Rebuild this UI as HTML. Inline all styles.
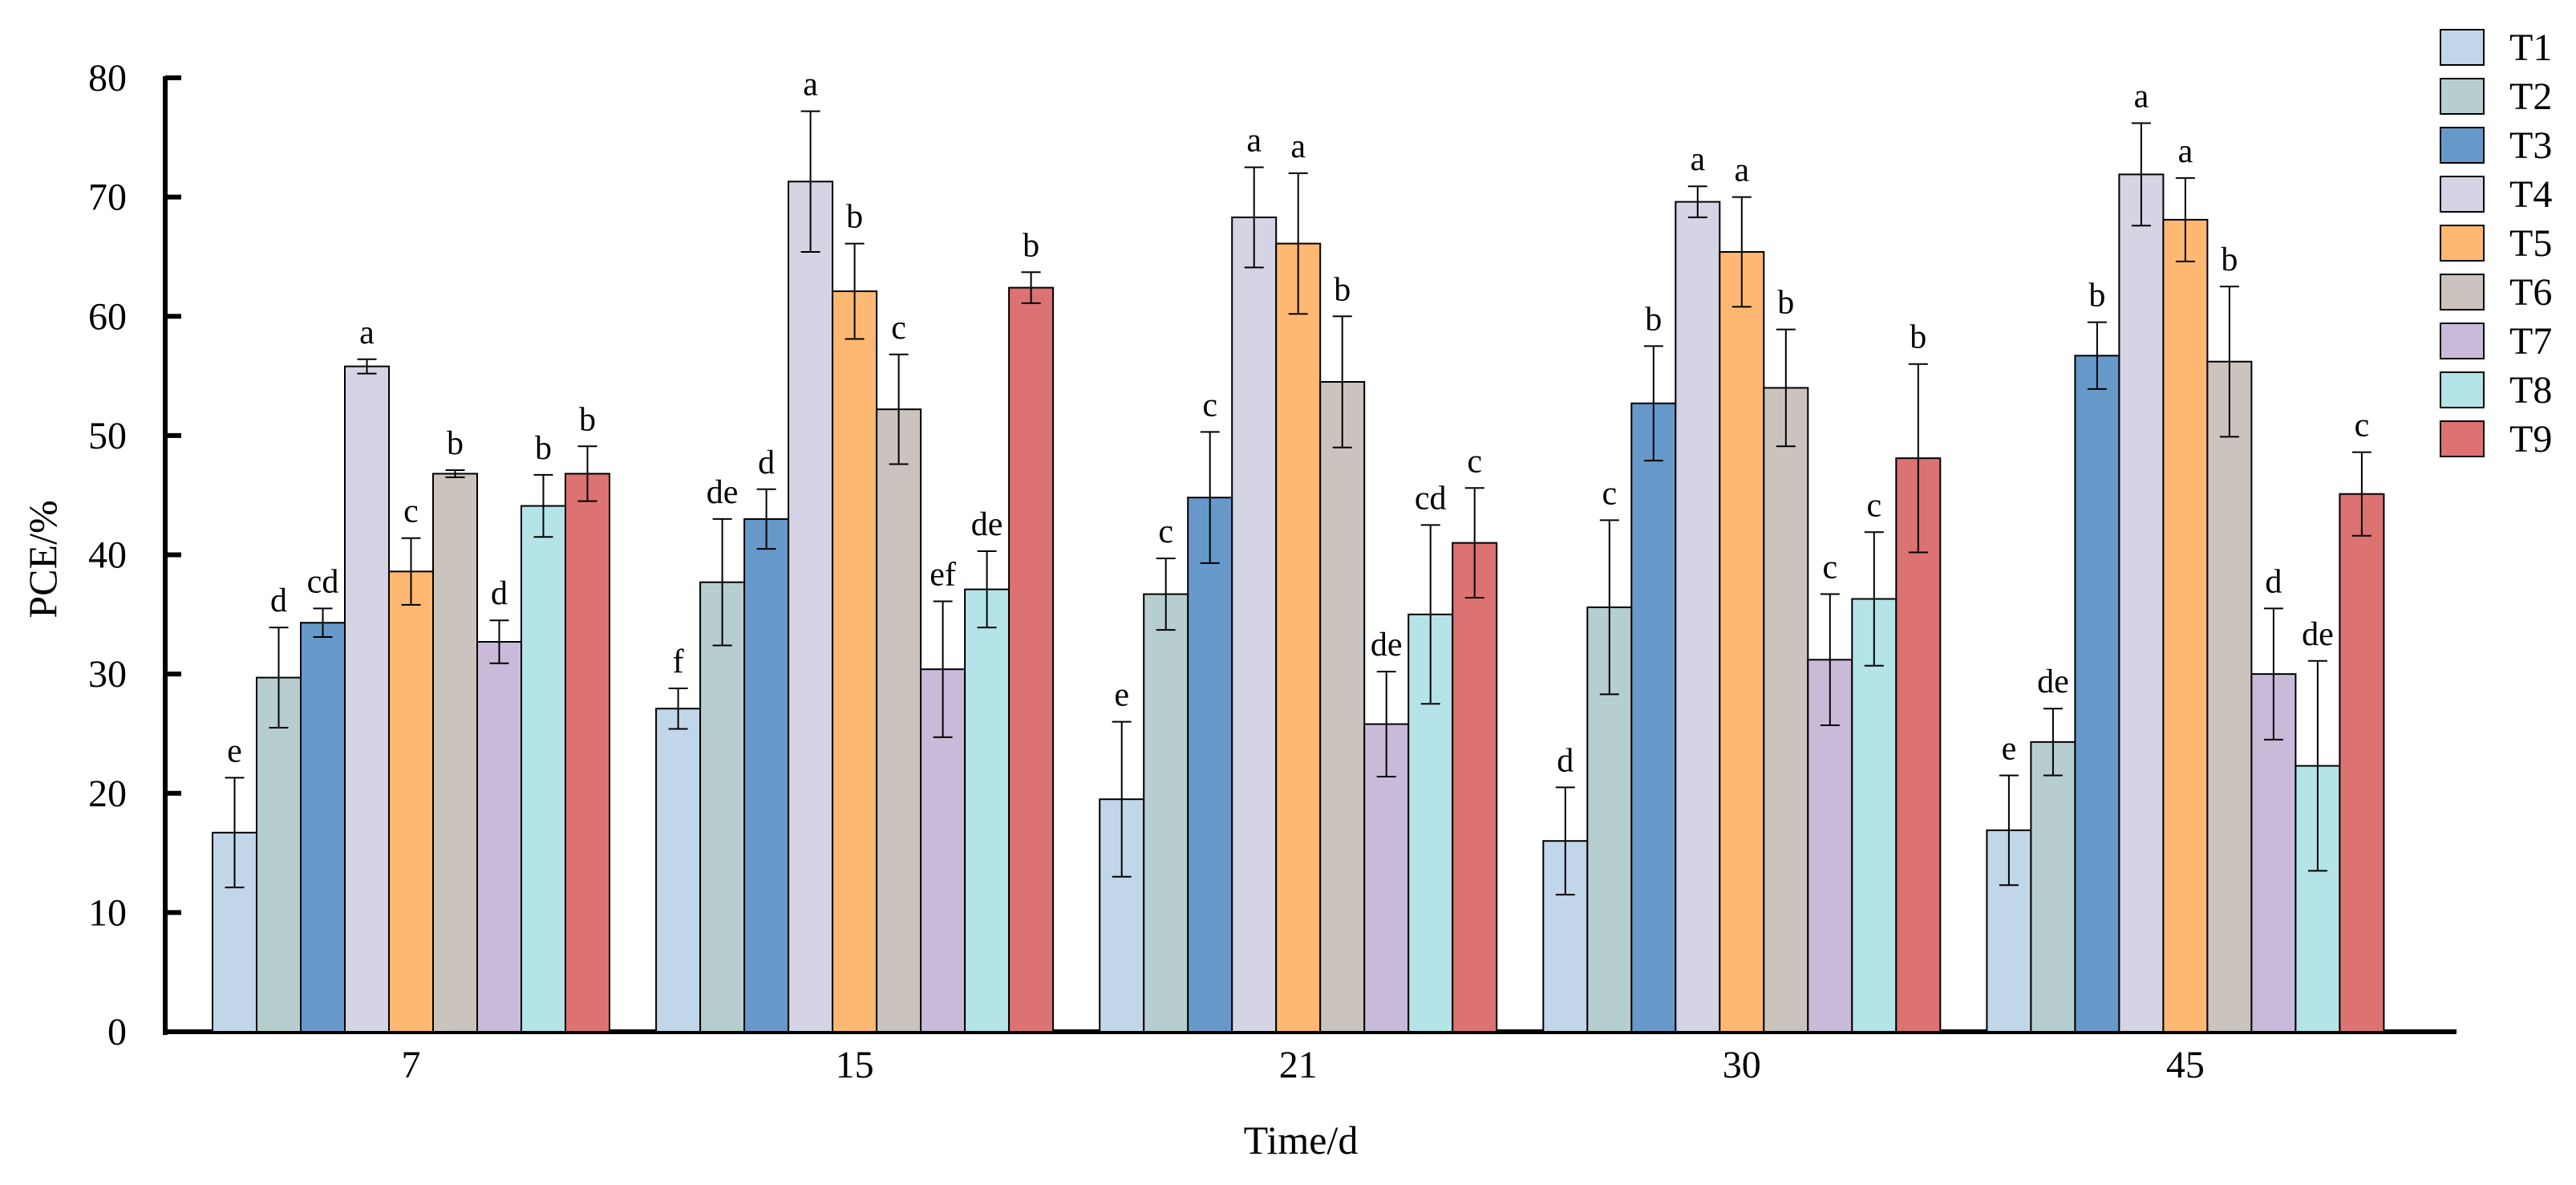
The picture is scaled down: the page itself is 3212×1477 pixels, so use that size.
<!DOCTYPE html>
<html><head><meta charset="utf-8"><style>
html,body{margin:0;padding:0;background:#fff;}
svg{display:block;font-family:"Liberation Serif",serif;}
</style></head><body>
<svg id="chart" width="3212" height="1477" viewBox="0 0 3212 1477" xmlns="http://www.w3.org/2000/svg">
<g id="axes"></g>
<g id="bars"></g>
<g id="legend"></g>
<text x="0" y="0" transform="translate(70,697) rotate(-90)" font-size="50" text-anchor="middle">PCE/%</text>
<text x="1622" y="1438" font-size="50" text-anchor="middle">Time/d</text>
</svg>
<script>
const categories = ["7","15","21","30","45"];
const series = ["T1","T2","T3","T4","T5","T6","T7","T8","T9"];
const colors = ["#c2d6ea","#b6cecf","#6699c9","#d4d4e4","#ffb871","#cbc3bd","#c9bada","#b4e3e8","#dc7272"];
// values[series][category]
const T1 = [16.7,27.1,19.5,16.0,16.9];
const T2 = [29.7,37.7,36.7,35.6,24.3];
const T3 = [34.3,43.0,44.8,52.7,56.7];
const T4 = [55.8,71.3,68.3,69.6,71.9];
const T5 = [38.6,62.1,66.1,65.4,68.1];
const T6 = [46.8,52.2,54.5,54.0,56.2];
const T7 = [32.7,30.4,25.8,31.2,30.0];
const T8 = [44.1,37.1,35.0,36.3,22.3];
const T9 = [46.8,62.4,41.0,48.1,45.1];
const E1 = [4.6,1.7,6.5,4.5,4.6];
const E2 = [4.2,5.3,3.0,7.3,2.8];
const E3 = [1.2,2.5,5.5,4.8,2.8];
const E4 = [0.6,5.9,4.2,1.3,4.3];
const E5 = [2.8,4.0,5.9,4.6,3.5];
const E6 = [0.3,4.6,5.5,4.9,6.3];
const E7 = [1.8,5.7,4.4,5.5,5.5];
const E8 = [2.6,3.2,7.5,5.6,8.8];
const E9 = [2.3,1.3,4.6,7.9,3.5];
const L1 = ["e","f","e","d","e"];
const L2 = ["d","de","c","c","de"];
const L3 = ["cd","d","c","b","b"];
const L4 = ["a","a","a","a","a"];
const L5 = ["c","b","a","a","a"];
const L6 = ["b","c","b","b","b"];
const L7 = ["d","ef","de","c","d"];
const L8 = ["b","de","cd","c","de"];
const L9 = ["b","b","c","b","c"];
const yTicks = [0,10,20,30,40,50,60,70,80];

const values=[T1,T2,T3,T4,T5,T6,T7,T8,T9];
const errors=[E1,E2,E3,E4,E5,E6,E7,E8,E9];
const letters=[L1,L2,L3,L4,L5,L6,L7,L8,L9];
const NS="http://www.w3.org/2000/svg";
const X0=206, Y0=1286, YTOP=97, XEND=3063;
const yScale=v=>Y0-(v/80)*(Y0-YTOP);
const groupCenter=i=>512.5+i*553.1;
const BW=55;
const barX=(i,s)=>groupCenter(i)-BW*series.length/2+s*BW;
function mk(tag,attrs,parent){const e=document.createElementNS(NS,tag);for(const k in attrs)e.setAttribute(k,attrs[k]);parent.appendChild(e);return e;}
const axes=document.getElementById('axes'),bars=document.getElementById('bars'),legend=document.getElementById('legend');

categories.forEach((c,i)=>{
  series.forEach((s,j)=>{
    const v=values[j][i],e=errors[j][i];
    const x=barX(i,j),cx=x+BW/2;
    const r=mk('rect',{x:x,y:yScale(v),width:BW,height:Y0-yScale(v),fill:colors[j],stroke:'#000','stroke-width':2},bars);
    
    
    const g=mk('g',{stroke:'#000','stroke-width':2},bars);
    
    
    mk('line',{x1:cx,x2:cx,y1:yScale(v+e),y2:yScale(v-e)},g);
    mk('line',{x1:cx-12,x2:cx+12,y1:yScale(v+e),y2:yScale(v+e)},g);
    mk('line',{x1:cx-12,x2:cx+12,y1:yScale(v-e),y2:yScale(v-e)},g);
    const t=mk('text',{x:cx,y:yScale(v+e)-20,'font-size':42,'text-anchor':'middle'},bars);
    t.textContent=letters[j][i];
    
    
  });
  const t=mk('text',{x:groupCenter(i),y:1343,'font-size':48,'text-anchor':'middle'},axes);
  t.textContent=c;
  
  
});

const ya=mk('line',{x1:X0,x2:X0,y1:YTOP-2,y2:Y0+4,stroke:'#000','stroke-width':6},axes);


const xa=mk('line',{x1:X0-3,x2:XEND,y1:Y0,y2:Y0,stroke:'#000','stroke-width':6},axes);


yTicks.forEach(v=>{
  const y=yScale(v);
  const tk=mk('line',{x1:X0,x2:X0+20,y1:y,y2:y,stroke:'#000','stroke-width':6},axes);
  
  
  const t=mk('text',{x:158,y:y+16,'font-size':48,'text-anchor':'end'},axes);
  t.textContent=v;
  
  
});

series.forEach((s,j)=>{
  const y=37+j*61;
  const g=mk('g',{},legend);
  
  
  mk('rect',{x:3043,y:y,width:54,height:44,fill:colors[j],stroke:'#000','stroke-width':2},g);
  const t=mk('text',{x:3129,y:y+38,'font-size':48},g);
  t.textContent=s;
});
</script>
</body></html>
